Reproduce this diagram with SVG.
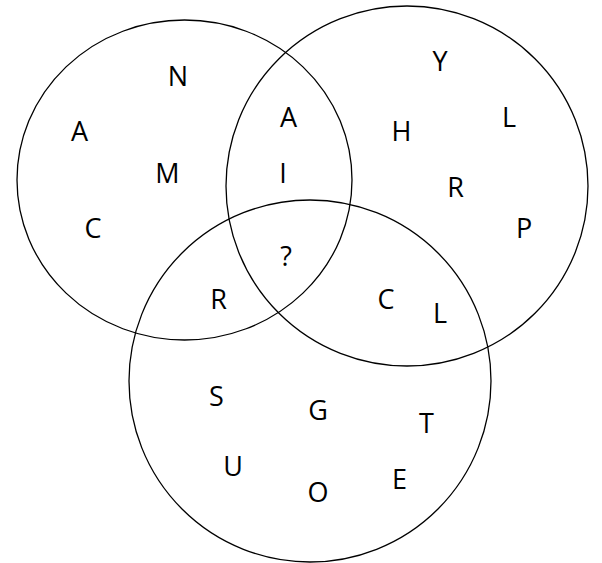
<svg xmlns="http://www.w3.org/2000/svg" width="602" height="563" viewBox="0 0 602 563">
<style>
.c{fill:none;stroke:#000;stroke-width:1.3}
text{font-family:"Open Sans","Liberation Sans",sans-serif;font-size:27px;fill:#000;text-anchor:middle}
</style>
<rect width="602" height="563" fill="#fff"/>
<g id="circle-left"><ellipse class="c" cx="184.5" cy="180" rx="167.5" ry="160"/></g>
<g id="circle-right"><ellipse class="c" cx="407" cy="186" rx="181" ry="180"/></g>
<g id="circle-bottom"><ellipse class="c" cx="310" cy="381" rx="181" ry="181"/></g>
<g id="labels">
<text x="178" y="86">N</text>
<text x="79.5" y="141">A</text>
<text x="167.5" y="183">M</text>
<text x="93" y="238">C</text>
<text x="288.5" y="127">A</text>
<text x="283" y="183">I</text>
<text x="286" y="266">?</text>
<text x="218.5" y="309">R</text>
<text x="440" y="71">Y</text>
<text x="509" y="127">L</text>
<text x="401.5" y="141">H</text>
<text x="455.5" y="197">R</text>
<text x="524" y="238">P</text>
<text x="386" y="309">C</text>
<text x="440" y="323">L</text>
<text x="216.5" y="406">S</text>
<text x="318" y="420">G</text>
<text x="426.5" y="433">T</text>
<text x="233" y="476">U</text>
<text x="318" y="502">O</text>
<text x="399.5" y="489">E</text>
</g>
</svg>
